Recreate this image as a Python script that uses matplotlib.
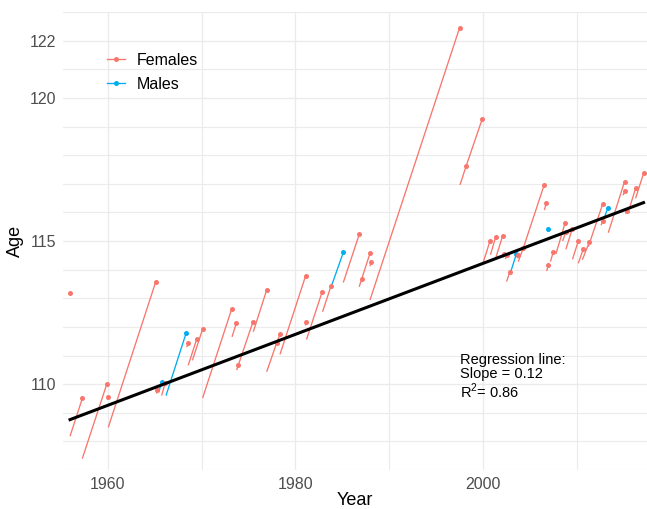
import matplotlib.pyplot as plt
from matplotlib.lines import Line2D
import numpy as np

# each row: start year, start age, end year, end age (point drawn at the end)
start_year = [1955.95, 1955.95, 1957.26, 1959.95, 1960.03, 1965.19, 1965.42, 1965.72, 1966.19, 1968.40,
              1968.56, 1969.00, 1970.09, 1973.23, 1973.72, 1973.85, 1975.50, 1976.93, 1977.99, 1978.35,
              1981.05, 1981.18, 1982.89, 1983.86, 1985.10, 1986.80, 1987.06, 1987.95, 1987.95, 1997.55,
              1998.22, 1999.97, 2000.80, 2001.35, 2002.15, 2002.40, 2002.52, 2002.88, 2003.65, 2003.76,
              2004.29, 2006.55, 2006.90, 2006.80, 2007.20, 2007.79, 2008.50, 2008.85, 2009.55, 2010.17,
              2010.60, 2011.24, 2012.60, 2012.90, 2013.37, 2014.95, 2015.25, 2015.68, 2016.28]
start_age = [113.18, 108.18, 107.40, 109.45, 108.49, 109.67, 109.72, 109.60, 109.60, 111.29,
             110.66, 110.83, 109.51, 111.65, 110.49, 110.60, 111.83, 110.43, 111.44, 111.04,
             112.05, 111.56, 112.53, 113.45, 113.55, 113.40, 113.67, 114.12, 112.94, 116.96,
             117.63, 114.19, 114.52, 114.39, 114.42, 114.37, 113.58, 113.84, 114.40, 114.28,
             114.74, 116.08, 115.33, 113.95, 114.28, 114.55, 115.00, 114.71, 114.36, 114.22,
             114.34, 114.80, 115.55, 115.77, 115.29, 116.60, 115.95, 116.20, 116.49]
end_year = [1955.95, 1957.26, 1959.89, 1960.03, 1965.09, 1965.25, 1965.73, 1966.11, 1968.32, 1968.53,
            1969.45, 1970.10, 1973.19, 1973.68, 1975.47, 1973.90, 1976.93, 1977.99, 1978.35, 1981.09,
            1981.14, 1982.85, 1983.79, 1985.10, 1986.80, 1987.06, 1987.95, 1988.05, 1997.50, 1998.22,
            1999.93, 2000.75, 2001.35, 2002.09, 2002.27, 2002.52, 2002.88, 2003.55, 2003.76, 2004.29,
            2006.53, 2006.75, 2006.97, 2006.97, 2007.50, 2008.75, 2008.82, 2009.52, 2010.17, 2010.70,
            2011.33, 2012.76, 2012.80, 2013.30, 2015.10, 2015.15, 2015.33, 2016.28, 2017.13]
end_age = [113.18, 109.50, 110.02, 109.56, 113.57, 109.81, 110.09, 110.05, 111.77, 111.42,
           111.56, 111.93, 112.62, 112.12, 112.18, 110.66, 113.29, 111.44, 111.74, 113.79,
           112.18, 113.23, 113.43, 114.60, 115.23, 113.67, 114.57, 114.25, 122.44, 117.63,
           119.27, 115.00, 115.13, 115.17, 114.55, 114.50, 113.93, 114.53, 114.51, 114.74,
           116.96, 116.32, 115.42, 114.16, 114.62, 115.62, 115.30, 115.42, 115.00, 114.72,
           114.95, 116.28, 115.70, 116.14, 117.07, 116.75, 116.05, 116.84, 117.36]
sex = ["F", "F", "F", "F", "F", "F", "M", "F", "M", "F",
       "F", "F", "F", "F", "F", "F", "F", "F", "F", "F",
       "F", "F", "F", "M", "F", "F", "F", "F", "F", "F",
       "F", "F", "F", "F", "F", "F", "F", "M", "F", "F",
       "F", "F", "M", "F", "F", "F", "F", "F", "F", "F",
       "F", "F", "F", "M", "F", "F", "F", "F", "F"]

reg_slope = 0.1239
reg_intercept = -133.582

colors = {"F": "#F8766D", "M": "#00AEEF"}

plt.rcParams['font.family'] = ['Liberation Sans', 'DejaVu Sans']
plt.rcParams['mathtext.fontset'] = 'custom'
plt.rcParams['mathtext.rm'] = 'Liberation Sans'

fig = plt.figure(figsize=(6.47, 5.09), dpi=100)
ax = fig.add_axes([63/647, 39/509, 1 - 63/647, 458/509])

for sy, sa, ey, ea, s in zip(start_year, start_age, end_year, end_age, sex):
    ax.plot([sy, ey], [sa, ea], color=colors[s], lw=0.95, solid_capstyle='butt', zorder=3)
    ax.plot(ey, ea, 'o', color=colors[s], ms=3.6, mec='none', zorder=4)

xs = np.array([min(start_year), max(end_year)])
ax.plot(xs, reg_intercept + reg_slope * xs, color='black', lw=2.2, zorder=5)

ax.set_xlim(1955.2, 2017.5)
ax.set_ylim(107, 123)
ax.set_xticks([1960, 1980, 2000])
ax.set_xticks([1970, 1990, 2010], minor=True)
ax.set_yticks([110, 115, 120, 122])
ax.set_yticks(np.arange(107, 124, 1), minor=True)
ax.grid(True, which='major', color='#EBEBEB', lw=1.0)
ax.grid(True, which='minor', color='#EBEBEB', lw=0.8)
ax.set_axisbelow(True)
for sp in ax.spines.values():
    sp.set_visible(False)
ax.tick_params(which='both', length=0, labelsize=11.5, labelcolor='#4D4D4D', pad=5)
ax.set_xlabel("Year", fontsize=13, labelpad=0)
ax.set_ylabel("Age", fontsize=13, labelpad=4)

ax.text(1997.5, 111.08, "Regression line:\nSlope = 0.12\nR$^2$= 0.86", fontsize=10.5,
        va='top', ha='left', linespacing=1.0, zorder=6)

handles = [Line2D([], [], color=colors["F"], lw=0.95, marker='o', ms=3.6, mec='none'),
           Line2D([], [], color=colors["M"], lw=0.95, marker='o', ms=3.6, mec='none')]
fig.legend(handles, ["Females", "Males"], loc='upper left', bbox_to_anchor=(107/647, 1 - 53/509),
           frameon=False, fontsize=11.5, handlelength=1.15, handletextpad=0.7, labelspacing=0.55,
           borderpad=0, borderaxespad=0)

fig.savefig("out.png", dpi=100)
